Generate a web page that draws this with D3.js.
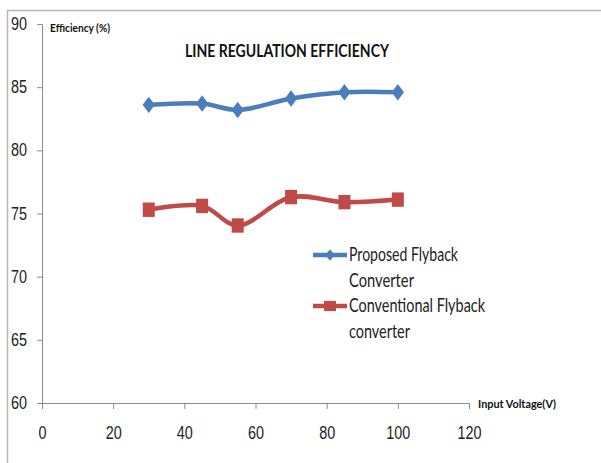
<!DOCTYPE html>
<html>
<head>
<meta charset="utf-8">
<script src="https://cdn.jsdelivr.net/npm/d3@7"></script>
<style>
  html, body { margin: 0; padding: 0; background: #fff; }
  svg { display: block; font-family: Lato, "Liberation Sans", sans-serif; }
</style>
</head>
<body>
<svg id="chart" width="601" height="463"></svg>
<script>
// Input voltage (V) sample points
const voltages = [30, 45, 55, 70, 85, 100];
// Efficiency (%) for each converter
const proposed = [83.6, 83.7, 83.2, 84.1, 84.6, 84.6];
const conventional = [75.3, 75.6, 74.05, 76.3, 75.9, 76.1];
const seriesNames = ["Proposed Flyback\nConverter", "Conventional Flyback\nconverter"];
const xTicks = [0, 20, 40, 60, 80, 100, 120];
const yTicks = [60, 65, 70, 75, 80, 85, 90];

const svg = d3.select("#chart");
const colors = ["#4A7EBB", "#BE4B48"];
const axisGrey = "#8c8c8c";

// outer frame (top and left edges)
svg.append("path")
  .attr("d", "M7.5,463 V10.5 H601")
  .attr("fill", "none").attr("stroke", "#b8b8b8").attr("stroke-width", 1.5);

const x = d3.scaleLinear().domain([0, 120]).range([42, 469]);
const y = d3.scaleLinear().domain([60, 90]).range([403, 24]);

// narrow digit glyphs: fixed advance per character
const digitWidth = 8;

// y axis
const yAxis = svg.append("g").attr("transform", `translate(${x(0)},0)`)
  .call(d3.axisLeft(y).tickValues(yTicks).tickSize(5).tickPadding(10).tickFormat(d3.format("d")));
yAxis.select(".domain").attr("stroke", axisGrey);
yAxis.selectAll(".tick line").attr("stroke", axisGrey);
yAxis.selectAll(".tick text").attr("font-size", 17.5).attr("fill", "#222")
  .attr("font-family", "inherit")
  .attr("textLength", d => String(d).length * digitWidth).attr("lengthAdjust", "spacingAndGlyphs");

// x axis
const xAxis = svg.append("g").attr("transform", `translate(0,${y(60)})`)
  .call(d3.axisBottom(x).tickValues(xTicks).tickSize(6).tickFormat(d3.format("d")));
xAxis.select(".domain").attr("stroke", axisGrey);
xAxis.selectAll(".tick line").attr("stroke", axisGrey);
xAxis.selectAll(".tick text").attr("font-size", 17.5).attr("fill", "#222")
  .attr("font-family", "inherit")
  .attr("y", 36).attr("dy", null)
  .attr("textLength", d => String(d).length * digitWidth).attr("lengthAdjust", "spacingAndGlyphs");

// axis titles
svg.append("text").attr("x", 50).attr("y", 32)
  .attr("font-size", 11.5).attr("font-weight", "bold").attr("fill", "#111")
  .attr("textLength", 60).attr("lengthAdjust", "spacingAndGlyphs")
  .text("Efficiency (%)");
svg.append("text").attr("x", 478).attr("y", 408)
  .attr("font-size", 11.5).attr("font-weight", "bold").attr("fill", "#111")
  .attr("textLength", 78).attr("lengthAdjust", "spacingAndGlyphs")
  .text("Input Voltage(V)");

// chart title
svg.append("text").attr("x", 185).attr("y", 57)
  .attr("font-size", 16.5).attr("font-weight", "bold").attr("fill", "#111")
  .attr("textLength", 204).attr("lengthAdjust", "spacingAndGlyphs")
  .text("LINE REGULATION EFFICIENCY");

const line = d3.line()
  .x((d, i) => x(voltages[i]))
  .y(d => y(d))
  .curve(d3.curveCatmullRom.alpha(0.5));

const diamond = d3.symbol().type(d3.symbolDiamond).size(78);
const square = d3.symbol().type(d3.symbolSquare).size(144);

[proposed, conventional].forEach((vals, s) => {
  svg.append("path").datum(vals)
    .attr("d", line)
    .attr("fill", "none").attr("stroke", colors[s]).attr("stroke-width", 4.5)
    .attr("stroke-linejoin", "round");
  svg.selectAll(null).data(vals).enter().append("path")
    .attr("transform", (d, i) => `translate(${x(voltages[i])},${y(d)})` + (s === 0 ? " scale(1.3,1)" : " scale(1,1.2)"))
    .attr("d", s === 0 ? diamond : square)
    .attr("fill", colors[s]);
});

// legend
const legendRows = [255, 306];
const legendWidths = [[109, 65], [136, 61]];
seriesNames.forEach((name, s) => {
  const ly = legendRows[s];
  svg.append("line").attr("x1", 313).attr("x2", 347).attr("y1", ly).attr("y2", ly)
    .attr("stroke", colors[s]).attr("stroke-width", 4.5);
  svg.append("path")
    .attr("transform", `translate(330,${ly})` + (s === 0 ? " scale(1,0.7)" : " scale(1,0.85)"))
    .attr("d", s === 0 ? diamond : square)
    .attr("fill", colors[s]);
  name.split("\n").forEach((part, k) => {
    svg.append("text").attr("x", 349).attr("y", ly + 6 + k * 26)
      .attr("font-size", 19).attr("fill", "#222")
      .attr("textLength", legendWidths[s][k]).attr("lengthAdjust", "spacingAndGlyphs")
      .text(part);
  });
});
</script>
</body>
</html>
